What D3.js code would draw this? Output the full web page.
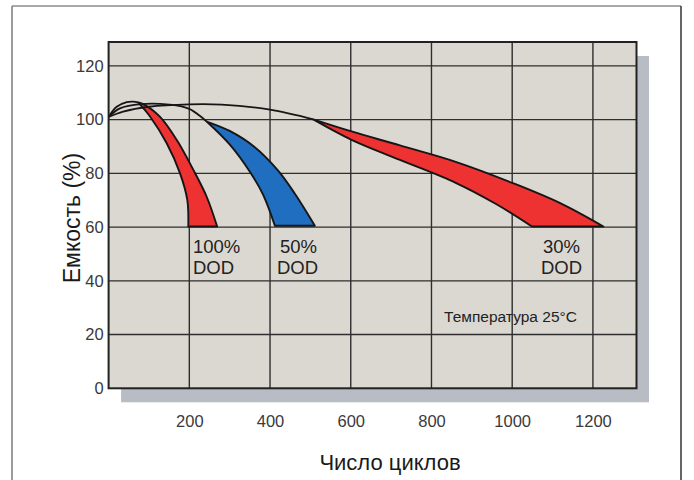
<!DOCTYPE html>
<html>
<head>
<meta charset="utf-8">
<script src="https://cdn.jsdelivr.net/npm/d3@7/dist/d3.min.js"></script>
<style>
  html, body { margin: 0; padding: 0; background: #ffffff; }
  svg { display: block; }
</style>
</head>
<body>
<svg id="chart" width="694" height="480"></svg>
<script>
// ---- data ----
const xTicks = [200, 400, 600, 800, 1000, 1200];
const yTicks = [0, 20, 40, 60, 80, 100, 120];
const xTitle = "Число циклов";
const yTitle = "Емкость (%)";
const tempNote = "Температура 25°C";
const dodNames = ["100%", "50%", "30%"];
const dodWord = "DOD";

// lead-in curves from the start point to the tip of each band
const lead100 = [[0, 101], [20, 104.8], [45, 106.5], [61, 106.7], [73, 106.4]];
const lead50  = [[0, 101], [28, 104.2], [80, 105.8], [150, 105.6], [200, 104], [243, 99.3]];
const lead30  = [[0, 101], [36, 103], [100, 104.8], [200, 105.7], [280, 105.6], [400, 103.7], [507, 100.1]];

// band edges: short-life edge and long-life edge (cycles, capacity %)
const short100 = [[73, 106.4], [103, 101.1], [144, 91.2], [177, 80], [195, 70.1], [197.5, 60.2]];
const long100  = [[73, 106.4], [86, 105.8], [127, 101.1], [169, 92.4], [210, 81.3], [243, 71.3], [269, 60.2]];
const short50  = [[243, 99.3], [301, 90.6], [350, 80.6], [383, 72], [412, 60.5]];
const long50   = [[243, 99.3], [300, 95.8], [360, 90], [420, 81], [462, 72.3], [511, 60.5]];
const short30  = [[507, 100.1], [602, 92.5], [722, 85], [860, 76.5], [960, 68.6], [1049, 60.2]];
const long30   = [[507, 100.1], [602, 95.6], [722, 90.4], [860, 84.3], [1003, 76.3], [1119, 68.9], [1226, 60.2]];

// ---- layout ----
const svg = d3.select("#chart");
const plot = { left: 108.6, top: 42, right: 636.5, bottom: 388.3 };
const x = d3.scaleLinear().domain([0, 1308]).range([plot.left, plot.right]);
const y = d3.scaleLinear().domain([0, 128.9]).range([plot.bottom, plot.top]);

// outer frame
svg.append("line").attr("x1", 12).attr("y1", 6).attr("x2", 681).attr("y2", 6)
  .attr("stroke", "#8c8c8c").attr("stroke-width", 1.5);
svg.append("line").attr("x1", 12).attr("y1", 6).attr("x2", 12).attr("y2", 480)
  .attr("stroke", "#7a7a7a").attr("stroke-width", 1.5);
svg.append("line").attr("x1", 681).attr("y1", 6).attr("x2", 681).attr("y2", 480)
  .attr("stroke", "#333333").attr("stroke-width", 1.5);

// shadow
svg.append("rect")
  .attr("x", plot.left + 12.5).attr("y", plot.top + 14)
  .attr("width", plot.right - plot.left).attr("height", plot.bottom - plot.top)
  .attr("fill", "#b8bcc4");

// plot background
svg.append("rect")
  .attr("x", plot.left).attr("y", plot.top)
  .attr("width", plot.right - plot.left).attr("height", plot.bottom - plot.top)
  .attr("fill", "#dbd8d1");

// grid
const grid = svg.append("g").attr("stroke", "#2e2e2e").attr("stroke-width", 1.4);
grid.selectAll("line.gx").data(xTicks).join("line").attr("class", "gx")
  .attr("x1", d => x(d)).attr("x2", d => x(d))
  .attr("y1", plot.top).attr("y2", plot.bottom);
grid.selectAll("line.gy").data(yTicks.filter(d => d > 0)).join("line").attr("class", "gy")
  .attr("y1", d => y(d)).attr("y2", d => y(d))
  .attr("x1", plot.left).attr("x2", plot.right);

// axes (labels only, via d3 axes)
const xAxis = svg.append("g").attr("transform", `translate(0,${plot.bottom})`)
  .call(d3.axisBottom(x).tickValues(xTicks).tickSize(0).tickPadding(27).tickFormat(d3.format("d")));
const yAxis = svg.append("g").attr("transform", `translate(${plot.left},0)`)
  .call(d3.axisLeft(y).tickValues(yTicks).tickSize(0).tickPadding(5).tickFormat(d3.format("d")));
[xAxis, yAxis].forEach(a => {
  a.select(".domain").remove();
  a.selectAll("text").attr("font-family", "'Liberation Sans', Arial, sans-serif")
    .attr("font-size", 16.5).attr("fill", "#3a3a3a");
});

// bands
const lineGen = d3.line().x(d => x(d[0])).y(d => y(d[1])).curve(d3.curveCatmullRom.alpha(0.5));
function bandPath(shortEdge, longEdge) {
  const a = lineGen(shortEdge);
  const b = lineGen(longEdge.slice().reverse()).replace(/^M/, "L");
  return a + b + "Z";
}
const bands = [
  { lead: lead100, s: short100, l: long100, color: "#ee3232" },
  { lead: lead50,  s: short50,  l: long50,  color: "#1f6ebf" },
  { lead: lead30,  s: short30,  l: long30,  color: "#ee3232" }
];
const marks = svg.append("g");
bands.forEach(b => {
  marks.append("path").attr("d", bandPath(b.s, b.l))
    .attr("fill", b.color).attr("stroke", "#161616").attr("stroke-width", 1.9)
    .attr("stroke-linejoin", "round");
});
bands.forEach(b => {
  marks.append("path").attr("d", lineGen(b.lead))
    .attr("fill", "none").attr("stroke", "#161616").attr("stroke-width", 1.8);
});

// plot border
svg.append("rect")
  .attr("x", plot.left).attr("y", plot.top)
  .attr("width", plot.right - plot.left).attr("height", plot.bottom - plot.top)
  .attr("fill", "none").attr("stroke", "#222").attr("stroke-width", 2);

// DOD labels
const lab = svg.append("g").attr("font-family", "'Liberation Sans', Arial, sans-serif")
  .attr("font-size", 18.5).attr("fill", "#222");
lab.append("text").attr("x", 193).attr("y", 252.5).text(dodNames[0]);
lab.append("text").attr("x", 193).attr("y", 273.5).text(dodWord);
lab.append("text").attr("x", 298.5).attr("y", 252.5).attr("text-anchor", "middle").text(dodNames[1]);
lab.append("text").attr("x", 297.5).attr("y", 273.5).attr("text-anchor", "middle").text(dodWord);
lab.append("text").attr("x", 561.5).attr("y", 252.5).attr("text-anchor", "middle").text(dodNames[2]);
lab.append("text").attr("x", 561.5).attr("y", 273.5).attr("text-anchor", "middle").text(dodWord);

// temperature note
svg.append("text").attr("x", 510.5).attr("y", 322).attr("text-anchor", "middle")
  .attr("font-family", "'Liberation Sans', Arial, sans-serif").attr("font-size", 15.5)
  .attr("fill", "#222").text(tempNote);

// axis titles
svg.append("text").attr("x", 390).attr("y", 470).attr("text-anchor", "middle")
  .attr("font-family", "'Liberation Sans', Arial, sans-serif").attr("font-size", 22)
  .attr("fill", "#1a1a1a").text(xTitle);
svg.append("text").attr("transform", "translate(80,218) rotate(-90)").attr("text-anchor", "middle")
  .attr("font-family", "'Liberation Sans', Arial, sans-serif").attr("font-size", 23)
  .attr("fill", "#1a1a1a").text(yTitle);
</script>
</body>
</html>
